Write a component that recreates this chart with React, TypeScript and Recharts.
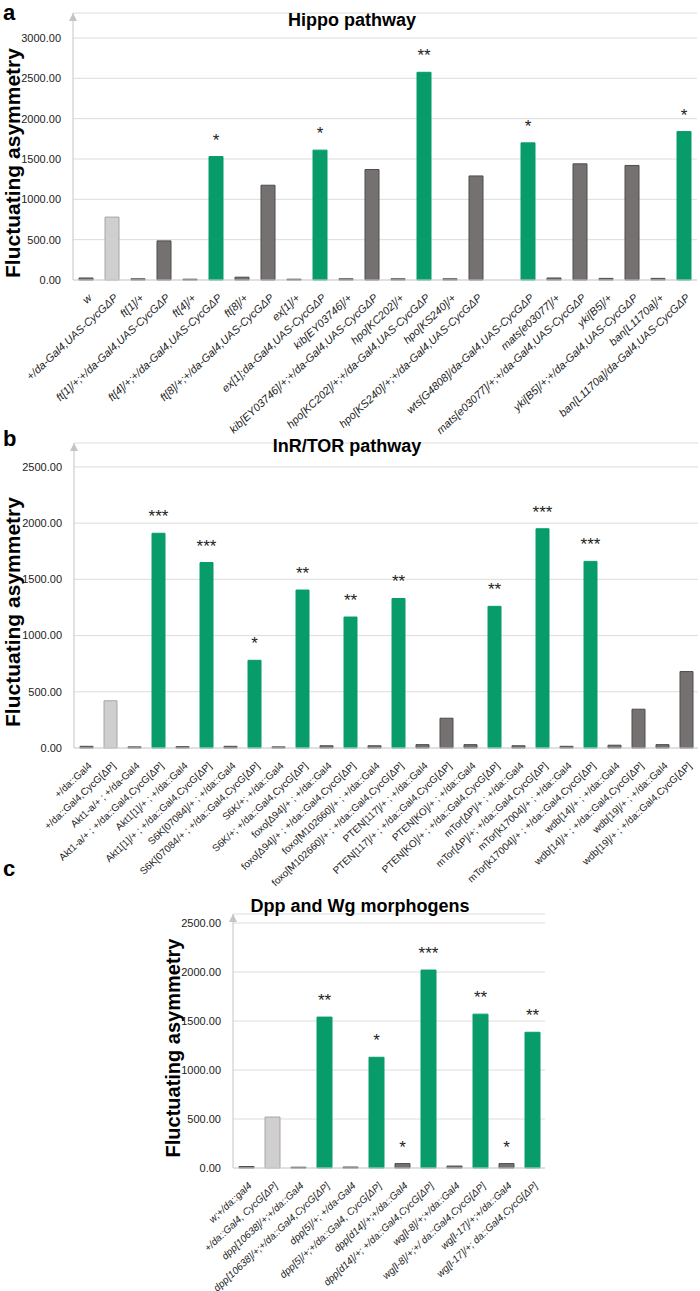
import React from 'react';
import { BarChart, Bar, XAxis, YAxis, CartesianGrid, Cell, LabelList } from 'recharts';

// a: Hippo pathway
const hippoNames = [
  'w', '+/da-Gal4,UAS-CycGΔP', 'ft[1]/+', 'ft[1]/+;+/da-Gal4,UAS-CycGΔP', 'ft[4]/+',
  'ft[4]/+;+/da-Gal4,UAS-CycGΔP', 'ft[8]/+', 'ft[8]/+;+/da-Gal4,UAS-CycGΔP', 'ex[1]/+',
  'ex[1];da-Gal4,UAS-CycGΔP', 'kib[EY03746]/+', 'kib[EY03746]/+;+/da-Gal4,UAS-CycGΔP',
  'hpo[KC202]/+', 'hpo[KC202]/+;+/da-Gal4,UAS-CycGΔP', 'hpo[KS240]/+',
  'hpo[KS240]/+;+/da-Gal4,UAS-CycGΔP', '', 'wts[G4808]/da-Gal4,UAS-CycGΔP', 'mats[e03077]/+',
  'mats[e03077]/+;+/da-Gal4,UAS-CycGΔP', 'yki[B5]/+', 'yki[B5]/+;+/da-Gal4,UAS-CycGΔP',
  'ban[L1170a]/+', 'ban[L1170a]/da-Gal4,UAS-CycGΔP',
];
const hippoValues = [25, 780, 15, 485, 10, 1530, 35, 1175, 10, 1610, 15, 1370, 15, 2575, 15, 1290, null, 1700, 25, 1440, 20, 1420, 20, 1840];
const hippoKinds = ['g', 'c', 'g', 'g', 'g', 's', 'g', 'g', 'g', 's', 'g', 'g', 'g', 's', 'g', 'g', 'g', 's', 'g', 'g', 'g', 'g', 'g', 's'];
const hippoStars = ['', '', '', '', '', '*', '', '', '', '*', '', '', '', '**', '', '', '', '*', '', '', '', '', '', '*'];

// b: InR/TOR pathway
const torNames = [
  '+/da::Gal4', '+/da::Gal4,CycG[ΔP]', 'Akt1-a/+ ; +/da-Gal4', 'Akt1-a/+ ; +/da::Gal4,CycG[ΔP]',
  'Akt1[1]/+ ; +/da::Gal4', 'Akt1[1]/+ ; +/da::Gal4,CycG[ΔP]', 'S6K[07084]/+ ; +/da::Gal4',
  'S6K[07084/+ ; +/da::Gal4,CycG[ΔP]', 'S6K/+; +/da::Gal4', 'S6K/+; +/da::Gal4,CycG[ΔP]',
  'foxo[Δ94]/+ ; +/da::Gal4', 'foxo[Δ94]/+ ; +/da::Gal4,CycG[ΔP]', 'foxo[M102660]/+ ; +/da::Gal4',
  'foxo[M102660]/+ ; +/da::Gal4,CycG[ΔP]', 'PTEN[117]/+ ; +/da::Gal4', 'PTEN[117]/+ ; +/da::Gal4,CycG[ΔP]',
  'PTEN[KO]/+ ; +/da::Gal4', 'PTEN[KO]/+ ; +/da::Gal4,CycG[ΔP]', 'mTor[ΔP]/+ ; +/da::Gal4',
  'mTor[ΔP]/+; +/da::Gal4,CycG[ΔP]', 'mTor[k17004]/+ ; +/da::Gal4', 'mTor[k17004]/+ ; +/da::Gal4,CycG[ΔP]',
  'wdb[14]/+ ; +/da::Gal4', 'wdb[14]/+ ; +/da::Gal4,CycG[ΔP]', 'wdb[19]/+ ; +/da::Gal4',
  'wdb[19]/+ ; +/da::Gal4,CycG[ΔP]',
];
const torValues = [15, 420, 10, 1910, 12, 1650, 15, 780, 10, 1405, 20, 1165, 20, 1330, 30, 265, 30, 1260, 20, 1950, 15, 1660, 25, 345, 30, 680];
const torKinds = ['g', 'c', 'g', 's', 'g', 's', 'g', 's', 'g', 's', 'g', 's', 'g', 's', 'g', 'g', 'g', 's', 'g', 's', 'g', 's', 'g', 'g', 'g', 'g'];
const torStars = ['', '', '', '***', '', '***', '', '*', '', '**', '', '**', '', '**', '', '', '', '**', '', '***', '', '***', '', '', '', ''];

// c: Dpp and Wg morphogens
const morphNames = [
  'w;+/da::gal4', '+/da::Gal4, CycG[ΔP]', 'dpp[10638]/+;+/da::Gal4', 'dpp[10638]/+;+/da::Gal4,CycG[ΔP]',
  'dpp[5]/+; +/da-Gal4', 'dpp[5]/+;+/da::Gal4, CycG[ΔP]', 'dpp[d14]/+;+/da::Gal4',
  'dpp[d14]/+; +/da::Gal4,CycG[ΔP]', 'wg[l-8]/+;+/da::Gal4', 'wg[l-8]/+;+/ da::Gal4,CycG[ΔP]',
  'wg[l-17]/+;+/da::Gal4', 'wg[l-17]/+; da::Gal4,CycG[ΔP]',
];
const morphValues = [15, 520, 8, 1540, 10, 1130, 45, 2020, 20, 1570, 45, 1385];
const morphKinds = ['g', 'c', 'g', 's', 'g', 's', 'g', 's', 'g', 's', 'g', 's'];
const morphStars = ['', '', '', '**', '', '*', '*', '***', '', '**', '*', '**'];

const FONT = '"Liberation Sans", Arial, sans-serif';
const FILL: Record<string, string> = { g: '#767171', c: '#d0cece', s: '#079c69' };
const EDGE: Record<string, string> = { g: '#4d4d4d', c: '#a6a6a6', s: '#079c69' };

const rows = (names: string[], values: (number | null)[], kinds: string[], stars: string[]) =>
  names.map((name, i) => ({ name, value: values[i], kind: kinds[i], star: stars[i] }));

const SlantTick = (props: any) => {
  const { x, y, payload, italic, size } = props;
  return (
    <g transform={`translate(${x + 4},${y + 8}) rotate(-43)`}>
      <text textAnchor="end" dy="0.35em" fontSize={size} fontStyle={italic ? 'italic' : 'normal'}
        fill="#222" fontFamily={FONT}>
        {payload.value}
      </text>
    </g>
  );
};

interface PanelProps {
  id: string;
  data: any[];
  top: number;
  height: number;
  marginTop: number;
  xAxisHeight: number;
  yWidth: number;
  right: number;
  yMax: number;
  ticks: number[];
  barSize: number;
  italic: boolean;
  labelSize: number;
}

const Panel = (p: PanelProps) => (
  <div style={{ position: 'absolute', left: 0, top: p.top }}>
    <BarChart width={700} height={p.height} data={p.data}
      margin={{ top: p.marginTop, right: p.right, left: 0, bottom: 0 }}>
      <defs>
        <marker id={`arrow-${p.id}`} viewBox="0 0 10 10" refX="10" refY="5" markerWidth="8" markerHeight="8"
          markerUnits="userSpaceOnUse" orient="auto-start-reverse">
          <path d="M0,0 L10,5 L0,10 z" fill="#c4c4c4" />
        </marker>
      </defs>
      <CartesianGrid vertical={false} stroke="#dcdcdc" />
      <XAxis dataKey="name" interval={0} height={p.xAxisHeight} tickLine={false}
        axisLine={{ stroke: '#d4d4d4' }}
        tick={(t: any) => <SlantTick {...t} italic={p.italic} size={p.labelSize} />} />
      <YAxis width={p.yWidth} domain={[0, p.yMax]} ticks={p.ticks} tickLine={false}
        axisLine={{ stroke: '#c4c4c4', markerStart: `url(#arrow-${p.id})` } as any}
        tickFormatter={(v: number) => v.toFixed(2)} tickMargin={6}
        tick={{ fontSize: 11, fill: '#222', fontFamily: FONT }} />
      <Bar dataKey="value" barSize={p.barSize} isAnimationActive={false} strokeWidth={1}>
        {p.data.map((d, i) => (
          <Cell key={i} fill={FILL[d.kind]} stroke={EDGE[d.kind]} />
        ))}
        <LabelList dataKey="star" position="top" offset={11}
          style={{ fontSize: 17, fill: '#222', fontFamily: FONT }} />
      </Bar>
    </BarChart>
  </div>
);

const text = (s: string, left: number, top: number, size: number) => (
  <div style={{ position: 'absolute', left, top, fontSize: size, fontWeight: 'bold', fontFamily: FONT,
    color: '#000', whiteSpace: 'nowrap', lineHeight: 1 }}>{s}</div>
);

const yTitle = (cx: number, cy: number, size: number) => (
  <div style={{ position: 'absolute', left: cx - 150, top: cy - 12, width: 300, height: 24, textAlign: 'center',
    transform: 'rotate(-90deg)', fontSize: size, fontWeight: 'bold', fontFamily: FONT, lineHeight: '24px',
    whiteSpace: 'nowrap' }}>Fluctuating asymmetry</div>
);

const centered = (s: string, cx: number, cy: number, size: number) => (
  <div style={{ position: 'absolute', left: cx - 200, top: cy - size / 2, width: 400, textAlign: 'center',
    fontSize: size, fontWeight: 'bold', fontFamily: FONT, lineHeight: 1 }}>{s}</div>
);

export default function App() {
  const a = rows(hippoNames, hippoValues, hippoKinds, hippoStars);
  const b = rows(torNames, torValues, torKinds, torStars);
  const c = rows(morphNames, morphValues, morphKinds, morphStars);
  return (
    <div style={{ position: 'absolute', left: 0, top: 0, width: 700, height: 1291, background: '#fff', overflow: 'hidden' }}>
      <Panel id="b" data={b} top={420} height={470} marginTop={23} xAxisHeight={142} yWidth={74} right={2}
        yMax={2713} ticks={[0, 500, 1000, 1500, 2000, 2500]} barSize={13} italic={false} labelSize={10} />
      <Panel id="a" data={a} top={0} height={445} marginTop={13} xAxisHeight={165} yWidth={73} right={3}
        yMax={3310} ticks={[0, 500, 1000, 1500, 2000, 2500, 3000]} barSize={14} italic labelSize={11} />
      <Panel id="c" data={c} top={890} height={401} marginTop={24} xAxisHeight={123} yWidth={233} right={155}
        yMax={2592} ticks={[0, 500, 1000, 1500, 2000, 2500]} barSize={15} italic labelSize={10} />
      {text('a', 3, 2, 22)}
      {text('b', 3, 428, 22)}
      {text('c', 3, 858, 22)}
      {centered('Hippo pathway', 352, 20, 18)}
      {centered('InR/TOR pathway', 347, 446, 18)}
      {centered('Dpp and Wg morphogens', 360, 906, 18)}
      {yTitle(13, 163, 21)}
      {yTitle(13, 612, 21)}
      {yTitle(173, 1048, 20)}
    </div>
  );
}
